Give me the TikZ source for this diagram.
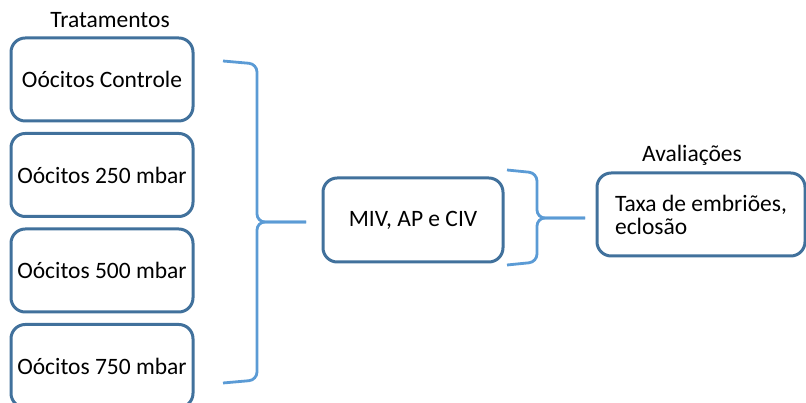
\documentclass[tikz,border=0pt]{standalone}
\usepackage{fontspec}
\setmainfont{Carlito}
\usepackage{tikz}
\usetikzlibrary{positioning, calc}
\definecolor{boxblue}{RGB}{65, 113, 156}
\definecolor{braceblue}{RGB}{91, 155, 213}

\begin{document}
\begin{tikzpicture}[x=1pt, y=1pt,
  tratbox/.style={rectangle, rounded corners=5mm, draw=boxblue,
    line width=3pt, minimum width=182pt, minimum height=83pt,
    inner sep=0pt, font=\fontsize{23.5}{23}\selectfont},
  stagebox/.style={tratbox, minimum width=180pt, minimum height=84pt},
  label/.style={font=\fontsize{23.5}{23}\selectfont, inner sep=0pt},
  brace/.style={draw=braceblue, line width=2.8pt, rounded corners=8pt}
]
  \useasboundingbox (0,0) rectangle (806,403);

  % treatments, stacked
  \node[tratbox] (ctrl) at (102,323.5) {Oócitos Controle};
  \node[tratbox, below=9.5pt of ctrl] (m250) {Oócitos 250 mbar};
  \node[tratbox, below=9.5pt of m250] (m500) {Oócitos 500 mbar};
  \node[tratbox, below=9.5pt of m500] (m750) {Oócitos 750 mbar};
  \node[label] (trat) at (110,383) {Tratamentos};

  % culture and evaluation
  \node[stagebox] (miv) at (413,183) {MIV, AP e CIV};
  \node[stagebox, minimum width=208pt, minimum height=83pt, align=left,
    xshift=0pt] (aval) at (701,188.5) {Taxa de embriões,\\eclosão};
  \node[label] (avtitle) at (692,248) {Avaliações};

  % large brace
  \coordinate (bigtop) at (223,342);
  \coordinate (bigbot) at (223,20);
  \coordinate (bigtip) at (257,181);
  \coordinate (bigend) at (306,181);
  \draw[brace] (bigtop) -- (257,339) -- (bigtip) -- (bigend);
  \draw[brace] (bigbot) -- (257,23) -- (bigtip) -- (bigend);

  % small brace
  \coordinate (smtop) at (507,233);
  \coordinate (smbot) at (507,138);
  \coordinate (smtip) at (537,185);
  \coordinate (smend) at (585,185);
  \draw[brace] (smtop) -- (537,230) -- (smtip) -- (smend);
  \draw[brace] (smbot) -- (537,141) -- (smtip) -- (smend);
\end{tikzpicture}
\end{document}
